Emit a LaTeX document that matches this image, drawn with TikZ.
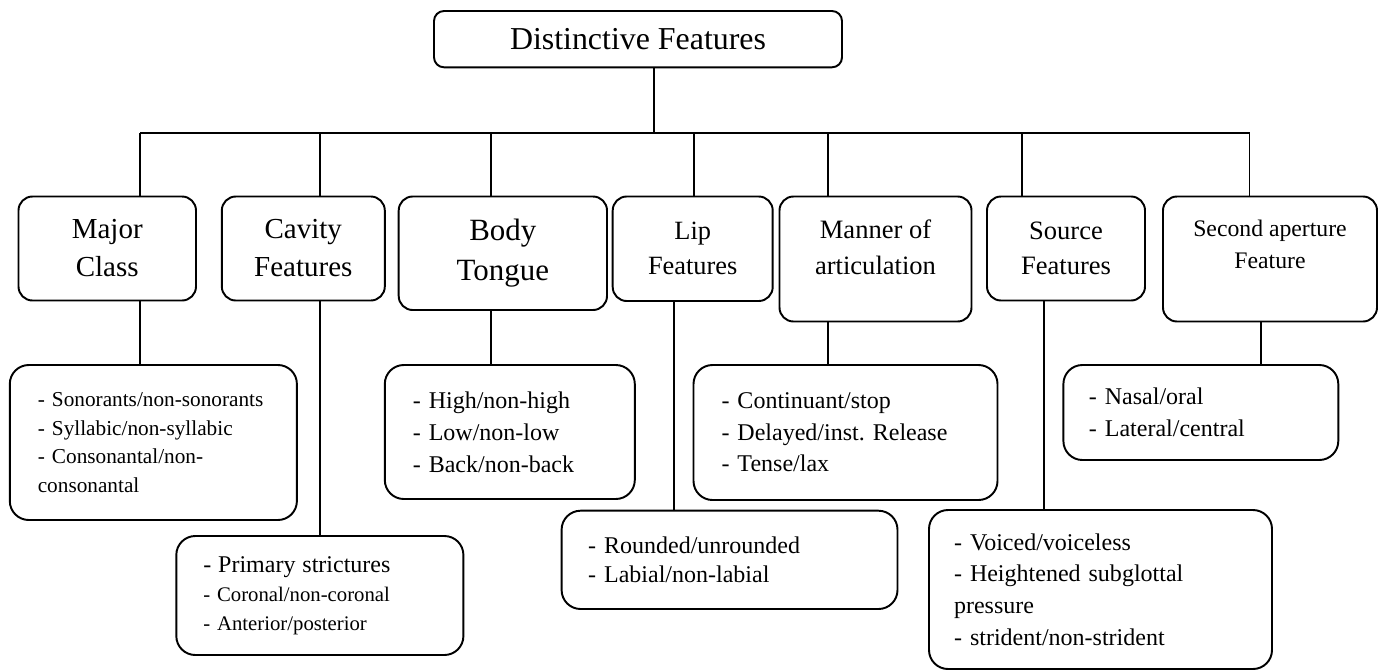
\documentclass[tikz,border=0pt]{standalone}
\usepackage{fontspec}
\setmainfont{Liberation Serif}
\usepackage{tikz}
\exhyphenpenalty=10000
\frenchspacing

\begin{document}
\begin{tikzpicture}[
  catbox/.style={draw, line width=1.1pt, rounded corners=0.28cm, align=center, inner sep=0pt},
  subbox/.style={draw, line width=1.1pt, rounded corners=0.38cm, align=left, inner ysep=0pt},
  cattext/.style={align=center, inner sep=0pt},
  link/.style={line width=1.1pt}
]
\useasboundingbox (0,0) rectangle (27.66,-13.42);

% ===================== Root =====================
\node[catbox, rounded corners=0.2cm, minimum width=8.16cm, minimum height=1.126cm,
  font=\fontsize{18.15}{22}\selectfont] (root) at (12.76,-0.783) {Distinctive Features};

% Bar
\coordinate (hub) at (13.08,-2.666);
\coordinate (b1) at (2.80,-2.666);
\coordinate (b2) at (6.40,-2.666);
\coordinate (b3) at (9.82,-2.666);
\coordinate (b4) at (13.88,-2.666);
\coordinate (b5) at (16.56,-2.666);
\coordinate (b6) at (20.434,-2.666);
\coordinate (b7) at (24.99,-2.666);
\draw[link] (root.south -| hub) -- (hub);
\draw[link] (b1) -- (b7);

% ===================== Feature classes =====================
\node[catbox, minimum width=3.55cm, minimum height=2.08cm, font=\fontsize{16.5}{21.6}\selectfont]
  (major) at (2.145,-4.97) {Major\\Class};
\node[catbox, minimum width=3.26cm, minimum height=2.08cm, font=\fontsize{16.5}{21.6}\selectfont]
  (cavity) at (6.066,-4.97) {Cavity\\Features};
\node[catbox, minimum width=4.166cm, minimum height=2.27cm, font=\fontsize{17.6}{22.8}\selectfont]
  (body) at (10.057,-5.065) {Body\\Tongue};
\node[catbox, minimum width=3.2cm, minimum height=2.09cm, font=\fontsize{15}{19.9}\selectfont]
  (lip) at (13.854,-4.975) {Lip\\Features};
\node[catbox, minimum width=3.84cm, minimum height=2.5cm] (manner) at (17.51,-5.18) {};
\node[cattext, font=\fontsize{15.1}{20.5}\selectfont] (mannertext) at (17.51,-4.95) {Manner of\\articulation};
\node[catbox, minimum width=3.16cm, minimum height=2.08cm, font=\fontsize{15.1}{20}\selectfont]
  (source) at (21.32,-4.97) {Source\\Features};
\node[catbox, minimum width=4.28cm, minimum height=2.5cm] (second) at (25.40,-5.18) {};
\node[cattext, font=\fontsize{13.5}{18.2}\selectfont] (secondtext) at (25.40,-4.88) {Second aperture\\Feature};

% Stems from the bar
\draw[link] (b1) -- (major.north -| b1);
\draw[link] (b2) -- (cavity.north -| b2);
\draw[link] (b3) -- (body.north -| b3);
\draw[link] (b4) -- (lip.north -| b4);
\draw[link] (b5) -- (manner.north -| b5);
\draw[link] (b6) -- (source.north -| b6);
\draw[link] (b7) -- (second.north -| b7);

% ===================== Feature lists =====================
\node[subbox, minimum height=3.10cm, inner xsep=0.56cm, text width=4.622cm,
  font=\fontsize{12.1}{16.3}\selectfont] (sono) at (3.067,-8.85)
  {- Sonorants/non-sonorants\\- Syllabic/non-syllabic\\- Consonantal/non-\\consonantal};
\node[subbox, minimum height=2.38cm, inner xsep=0.54cm, text width=4.662cm,
  font=\fontsize{11.8}{16.5}\selectfont] (prim) at (6.397,-11.91)
  {{\fontsize{13.66}{16.5}\selectfont - Primary strictures}\\- Coronal/non-coronal\\- Anterior/posterior};
\node[subbox, minimum height=2.68cm, inner xsep=0.56cm, text width=3.88cm,
  font=\fontsize{13.66}{18.2}\selectfont] (high) at (10.196,-8.64)
  {- High/non-high\\- Low/non-low\\- Back/non-back};
\node[subbox, minimum height=1.966cm, inner xsep=0.53cm, text width=5.658cm,
  font=\fontsize{13.66}{16.5}\selectfont] (round) at (14.591,-11.197)
  {- Rounded/unrounded\\- Labial/non-labial};
\node[subbox, minimum height=2.7cm, inner xsep=0.56cm, text width=4.96cm,
  font=\fontsize{13.66}{18}\selectfont] (cont) at (16.91,-8.65)
  {- Continuant/stop\\- Delayed/inst. Release\\- Tense/lax};
\node[subbox, minimum height=3.18cm, inner xsep=0.5cm, text width=5.86cm,
  font=\fontsize{13.66}{18}\selectfont] (voiced) at (22.01,-11.79)
  {- Voiced/voiceless\\- Heightened subglottal\\pressure\\- strident/non-strident};
\node[subbox, minimum height=1.9cm, inner xsep=0.51cm, text width=4.478cm,
  font=\fontsize{13.66}{18.2}\selectfont] (nasal) at (24.017,-8.25)
  {- Nasal/oral\\- Lateral/central};

% Drops to the lists
\coordinate (d4) at (13.486,-2.666);
\coordinate (d6) at (20.88,-2.666);
\coordinate (d7) at (25.214,-2.666);
\draw[link] (major.south -| b1) -- (sono.north -| b1);
\draw[link] (cavity.south -| b2) -- (prim.north -| b2);
\draw[link] (body.south -| b3) -- (high.north -| b3);
\draw[link] (lip.south -| d4) -- (round.north -| d4);
\draw[link] (manner.south -| b5) -- (cont.north -| b5);
\draw[link] (source.south -| d6) -- (voiced.north -| d6);
\draw[link] (second.south -| d7) -- (nasal.north -| d7);

\end{tikzpicture}
\end{document}
